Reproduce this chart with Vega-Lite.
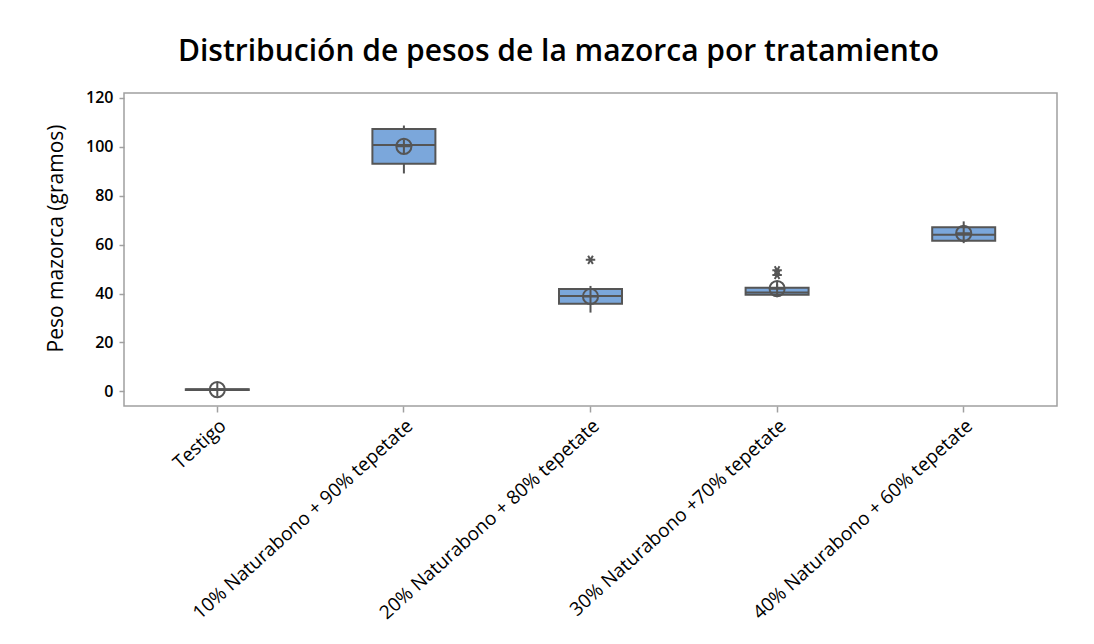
{
  "$schema": "https://vega.github.io/schema/vega-lite/v6.json",
  "width": 933,
  "height": 313,
  "autosize": {"type": "none"},
  "padding": {"left": 124, "top": 93, "right": 37, "bottom": 238},
  "background": "white",
  "title": {
    "text": "Distribución de pesos de la mazorca por tratamiento",
    "font": "Open Sans",
    "fontSize": 30,
    "fontWeight": 600,
    "color": "#000000",
    "anchor": "middle",
    "dx": -32,
    "baseline": "alphabetic",
    "offset": -1
  },
  "config": {
    "view": {"stroke": "#a0a0a0", "strokeWidth": 1.5},
    "axis": {
      "labelFont": "Open Sans",
      "titleFont": "Open Sans",
      "labelColor": "#000000",
      "titleColor": "#000000",
      "domain": false,
      "grid": false,
      "tickColor": "#a0a0a0",
      "tickWidth": 1.5
    }
  },
  "datasets": {
    "boxes": [
      {"trat": "Testigo", "lo": 0.4, "q1": 0.5, "med": 0.7, "q3": 0.9, "hi": 1.0, "mean": 0.7},
      {"trat": "10% Naturabono + 90% tepetate", "lo": 89.1, "q1": 93.1, "med": 100.7, "q3": 107.3, "hi": 108.7, "mean": 100.2},
      {"trat": "20% Naturabono + 80% tepetate", "lo": 32.2, "q1": 35.8, "med": 39.0, "q3": 41.8, "hi": 43.1, "mean": 38.8},
      {"trat": "30% Naturabono +70% tepetate", "lo": 38.5, "q1": 39.5, "med": 40.4, "q3": 42.4, "hi": 44.0, "mean": 42.0},
      {"trat": "40% Naturabono + 60% tepetate", "lo": 60.6, "q1": 61.6, "med": 64.0, "q3": 67.1, "hi": 69.5, "mean": 64.6}
    ],
    "outliers": [
      {"trat": "20% Naturabono + 80% tepetate", "peso": 53.8},
      {"trat": "30% Naturabono +70% tepetate", "peso": 49.5},
      {"trat": "30% Naturabono +70% tepetate", "peso": 47.6}
    ]
  },
  "data": {"name": "boxes"},
  "encoding": {
    "x": {
      "field": "trat",
      "type": "nominal",
      "sort": null,
      "scale": {"type": "band", "paddingInner": 0, "paddingOuter": 0},
      "axis": {
        "title": null,
        "labelAngle": -42,
        "labelFontSize": 19,
        "labelPadding": 4,
        "tickSize": 6,
        "labelLimit": 400
      }
    }
  },
  "layer": [
    {
      "mark": {"type": "rule", "color": "#555555", "strokeWidth": 2},
      "encoding": {
        "y": {
          "field": "lo",
          "type": "quantitative",
          "scale": {"domain": [-6, 122], "nice": false, "zero": false},
          "axis": {
            "title": "Peso mazorca (gramos)",
            "titleFontSize": 21,
            "titleFontWeight": "normal",
            "titleX": -68,
            "titleY": 145,
            "titleBaseline": "middle",
            "labelFontSize": 16,
            "labelFontWeight": 600,
            "labelPadding": 6,
            "values": [0, 20, 40, 60, 80, 100, 120],
            "tickSize": 5
          }
        },
        "y2": {"field": "q1"}
      }
    },
    {
      "mark": {"type": "rule", "color": "#555555", "strokeWidth": 2},
      "encoding": {
        "y": {"field": "q3", "type": "quantitative"},
        "y2": {"field": "hi"}
      }
    },
    {
      "mark": {"type": "bar", "fill": "#7ba7db", "stroke": "#555555", "strokeWidth": 2, "size": 63},
      "encoding": {
        "y": {"field": "q1", "type": "quantitative"},
        "y2": {"field": "q3"}
      }
    },
    {
      "mark": {"type": "tick", "color": "#555555", "thickness": 2, "size": 63, "opacity": 1},
      "encoding": {
        "y": {"field": "med", "type": "quantitative"}
      }
    },
    {
      "mark": {"type": "point", "shape": "circle", "filled": false, "stroke": "#555555", "strokeWidth": 2, "size": 230, "opacity": 1},
      "encoding": {
        "y": {"field": "mean", "type": "quantitative"}
      }
    },
    {
      "mark": {"type": "point", "shape": "M-1,0H1M0,-1V1", "filled": false, "stroke": "#555555", "strokeWidth": 2, "size": 190, "opacity": 1},
      "encoding": {
        "y": {"field": "mean", "type": "quantitative"}
      }
    },
    {
      "data": {"name": "outliers"},
      "mark": {"type": "point", "shape": "M-1,0H1M-0.5,-0.866L0.5,0.866M0.5,-0.866L-0.5,0.866", "filled": false, "stroke": "#555555", "strokeWidth": 2, "size": 90, "opacity": 1},
      "encoding": {
        "y": {"field": "peso", "type": "quantitative"}
      }
    }
  ]
}
